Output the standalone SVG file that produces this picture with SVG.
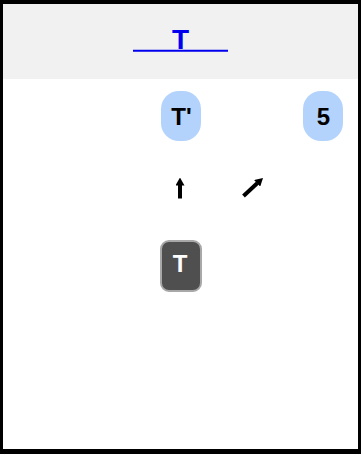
<svg xmlns="http://www.w3.org/2000/svg" width="361" height="454" viewBox="0 0 361 454">
<style>
.lbl{font-family:"Liberation Sans",Arial,sans-serif;font-weight:bold;text-anchor:middle}
.pill{fill:#b3d3fc}
</style>
<defs>
<marker id="ah" viewBox="0 0 8 9" refX="0.5" refY="4.5" markerWidth="8" markerHeight="9" orient="auto" markerUnits="userSpaceOnUse">
<path d="M0,0 L8,4.5 L0,9 Z" fill="#000"/>
</marker>
</defs>
<rect x="0" y="0" width="361" height="454" fill="#000"/>
<rect x="3" y="4" width="355" height="445" fill="#fff"/>
<g id="header">
<rect x="3" y="4" width="355" height="75" fill="#f1f1f1"/>
<text class="lbl" x="180.5" y="49" font-size="28" fill="#0000ee">T</text>
<line x1="133" y1="50.8" x2="228" y2="50.8" stroke="#0000ee" stroke-width="2"/>
</g>
<g id="node-tprime">
<rect class="pill" x="161" y="91" width="40" height="50" rx="18"/>
<text class="lbl" x="181.5" y="125" font-size="24" fill="#000">T'</text>
</g>
<g id="node-5">
<rect class="pill" x="303" y="91" width="40" height="50" rx="18"/>
<text class="lbl" x="323.5" y="125" font-size="24" fill="#000">5</text>
</g>
<g id="node-t">
<rect x="161" y="241" width="40" height="50" rx="8" fill="#4f4f4f" stroke="#a8a8a8" stroke-width="2"/>
<text class="lbl" x="180" y="272" font-size="24" fill="#fff">T</text>
</g>
<g id="connectors" stroke="#000" stroke-width="4" fill="none">
<line x1="180" y1="198.5" x2="180" y2="185" marker-end="url(#ah)"/>
<line x1="243.5" y1="196" x2="257.5" y2="183" marker-end="url(#ah)"/>
</g>
</svg>
